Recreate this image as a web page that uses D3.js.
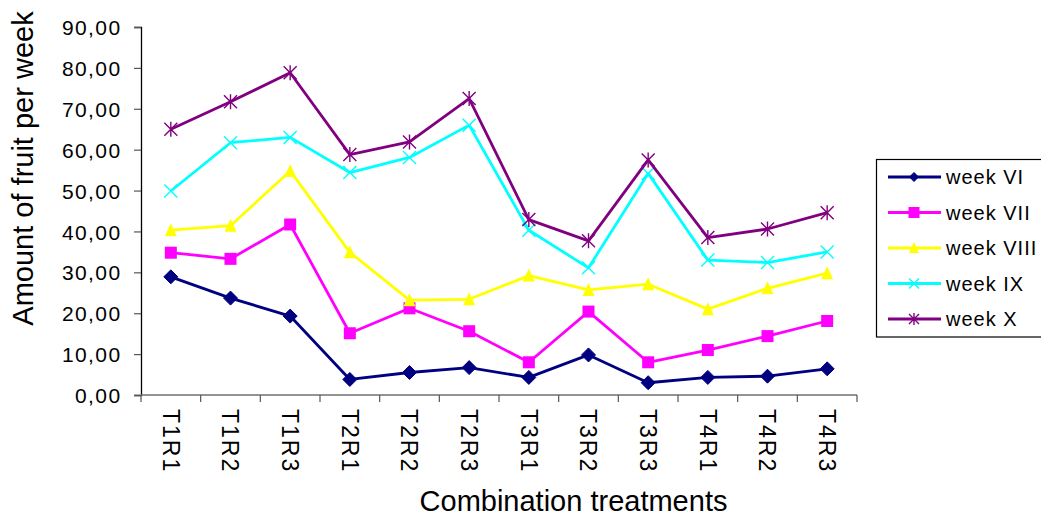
<!DOCTYPE html>
<html>
<head>
<meta charset="utf-8">
<script src="https://cdn.jsdelivr.net/npm/d3@7"></script>
<style>
  html, body { margin: 0; padding: 0; background: #fff; }
  svg { display: block; }
  text { font-family: "Liberation Sans", Arial, sans-serif; fill: #000; }
</style>
</head>
<body>
<svg id="chart" width="1041" height="518"></svg>
<script>
// ---- Data ----
const categories = ["T1R1","T1R2","T1R3","T2R1","T2R2","T2R3","T3R1","T3R2","T3R3","T4R1","T4R2","T4R3"];
const weekVI   = [28.9, 23.7, 19.3, 3.8, 5.5, 6.7, 4.3, 9.8, 3.0, 4.3, 4.6, 6.4];
const weekVII  = [34.8, 33.3, 41.7, 15.1, 21.2, 15.6, 8.0, 20.4, 8.0, 11.0, 14.4, 18.1];
const weekVIII = [40.3, 41.4, 54.8, 34.9, 23.2, 23.4, 29.2, 25.7, 27.1, 21.0, 26.1, 29.8];
const weekIX   = [49.9, 61.7, 63.0, 54.4, 58.1, 66.0, 40.3, 31.1, 54.2, 33.0, 32.4, 35.0];
const weekX    = [65.0, 71.7, 78.8, 58.8, 61.9, 72.5, 42.9, 37.7, 57.5, 38.5, 40.6, 44.6];
const seriesNames = ["week VI","week VII","week VIII","week IX","week X"];
const yTicks = [0,10,20,30,40,50,60,70,80,90];

const seriesValues = [weekVI, weekVII, weekVIII, weekIX, weekX];
const seriesColors = ["#000080","#FF00FF","#FFFF00","#00FFFF","#800080"];
const seriesMarkers = ["diamond","square","triangle","x","star"];

// ---- Layout ----
const svg = d3.select("#chart");
const plot = {left: 141, right: 857, top: 27, bottom: 395};

const x = d3.scaleBand().domain(categories).range([plot.left, plot.right]).paddingInner(0).paddingOuter(0);
const y = d3.scaleLinear().domain([0, 90]).range([plot.bottom, plot.top]);

// Y axis
const yAxis = d3.axisLeft(y).tickValues(yTicks).tickSize(7).tickPadding(14)
  .tickFormat(d => d3.format(".2f")(d).replace(".", ","));
const gy = svg.append("g").attr("transform", `translate(${plot.left},0)`).call(yAxis);
gy.select(".domain").attr("stroke", "#000").attr("stroke-width", 1.3);
gy.selectAll(".tick line").attr("stroke", "#555").attr("stroke-width", 1.2);
gy.selectAll(".tick text").style("font-size", "21px").style("letter-spacing", "1.4px")
  .attr("dy", "0.36em").attr("x", -19.5);

// X axis (line + ticks at band edges)
const gx = svg.append("g").attr("transform", `translate(0,${plot.bottom})`);
gx.append("line").attr("x1", plot.left).attr("x2", plot.right).attr("y1", 0).attr("y2", 0)
  .attr("stroke", "#707070").attr("stroke-width", 1.6);
const edges = d3.range(categories.length + 1).map(i => x.range()[0] + i * x.step());
gx.selectAll("line.edge").data(edges).enter().append("line").attr("class", "edge")
  .attr("x1", d => d).attr("x2", d => d).attr("y1", 0).attr("y2", 7)
  .attr("stroke", "#555").attr("stroke-width", 1.2);
gx.selectAll("text.cat").data(categories).enter().append("text").attr("class", "cat")
  .attr("transform", d => `translate(${x(d) + x.bandwidth() / 2},${14}) rotate(90)`)
  .attr("dy", "0.36em")
  .attr("text-anchor", "start")
  .style("font-size", "23px").style("letter-spacing", "2px")
  .text(d => d);

// Axis titles
svg.append("text").attr("transform", "translate(33,168.5) rotate(-90)")
  .attr("text-anchor", "middle").style("font-size", "29px").text("Amount of fruit per week");
svg.append("text").attr("x", 573.5).attr("y", 511)
  .attr("text-anchor", "middle").style("font-size", "29px").text("Combination treatments");

// Markers
function drawMarker(g, type, color, s) {
  const h = s / 2;
  if (type === "diamond") {
    g.append("path").attr("d", `M0,${-h}L${h},0L0,${h}L${-h},0Z`).attr("fill", color).attr("stroke", color).attr("stroke-width", 1);
  } else if (type === "square") {
    g.append("rect").attr("x", -h).attr("y", -h).attr("width", s).attr("height", s).attr("fill", color);
  } else if (type === "triangle") {
    g.append("path").attr("d", `M0,${-h - 1}L${h},${h}L${-h},${h}Z`).attr("fill", color);
  } else if (type === "x") {
    g.append("path").attr("d", `M${-h},${-h}L${h},${h}M${-h},${h}L${h},${-h}`).attr("stroke", color).attr("stroke-width", 1.4).attr("fill", "none");
  } else if (type === "star") {
    g.append("path").attr("d", `M${-h},${-h}L${h},${h}M${-h},${h}L${h},${-h}M0,${-h - 1}L0,${h + 1}`).attr("stroke", color).attr("stroke-width", 1.4).attr("fill", "none");
  }
}

const markerSize = [14, 12, 12, 13, 13];
const line = d3.line().x((d, i) => x(categories[i]) + x.bandwidth() / 2).y(d => y(d));

seriesValues.forEach((vals, si) => {
  const g = svg.append("g");
  g.append("path").datum(vals).attr("d", line).attr("fill", "none")
    .attr("stroke", seriesColors[si]).attr("stroke-width", 2.8).attr("stroke-linejoin", "round");
  vals.forEach((v, i) => {
    const mg = g.append("g").attr("transform", `translate(${x(categories[i]) + x.bandwidth() / 2},${y(v)})`);
    drawMarker(mg, seriesMarkers[si], seriesColors[si], markerSize[si]);
  });
});

// Legend
const legend = svg.append("g");
legend.append("rect").attr("x", 876.5).attr("y", 159.5).attr("width", 180).attr("height", 177.5)
  .attr("fill", "#fff").attr("stroke", "#000").attr("stroke-width", 1.2);
const legendY = d3.scalePoint().domain(seriesNames).range([177, 319]);
seriesNames.forEach((name, si) => {
  const yy = legendY(name);
  legend.append("line").attr("x1", 888).attr("x2", 941).attr("y1", yy).attr("y2", yy)
    .attr("stroke", seriesColors[si]).attr("stroke-width", 2.8);
  const mg = legend.append("g").attr("transform", `translate(914,${yy})`);
  drawMarker(mg, seriesMarkers[si], seriesColors[si], si === 0 ? 9 : (si === 1 ? 11 : 10));
  legend.append("text").attr("x", 946).attr("y", yy).attr("dy", "0.36em")
    .style("font-size", "20px").style("letter-spacing", "1px").text(name);
});
</script>
</body>
</html>
